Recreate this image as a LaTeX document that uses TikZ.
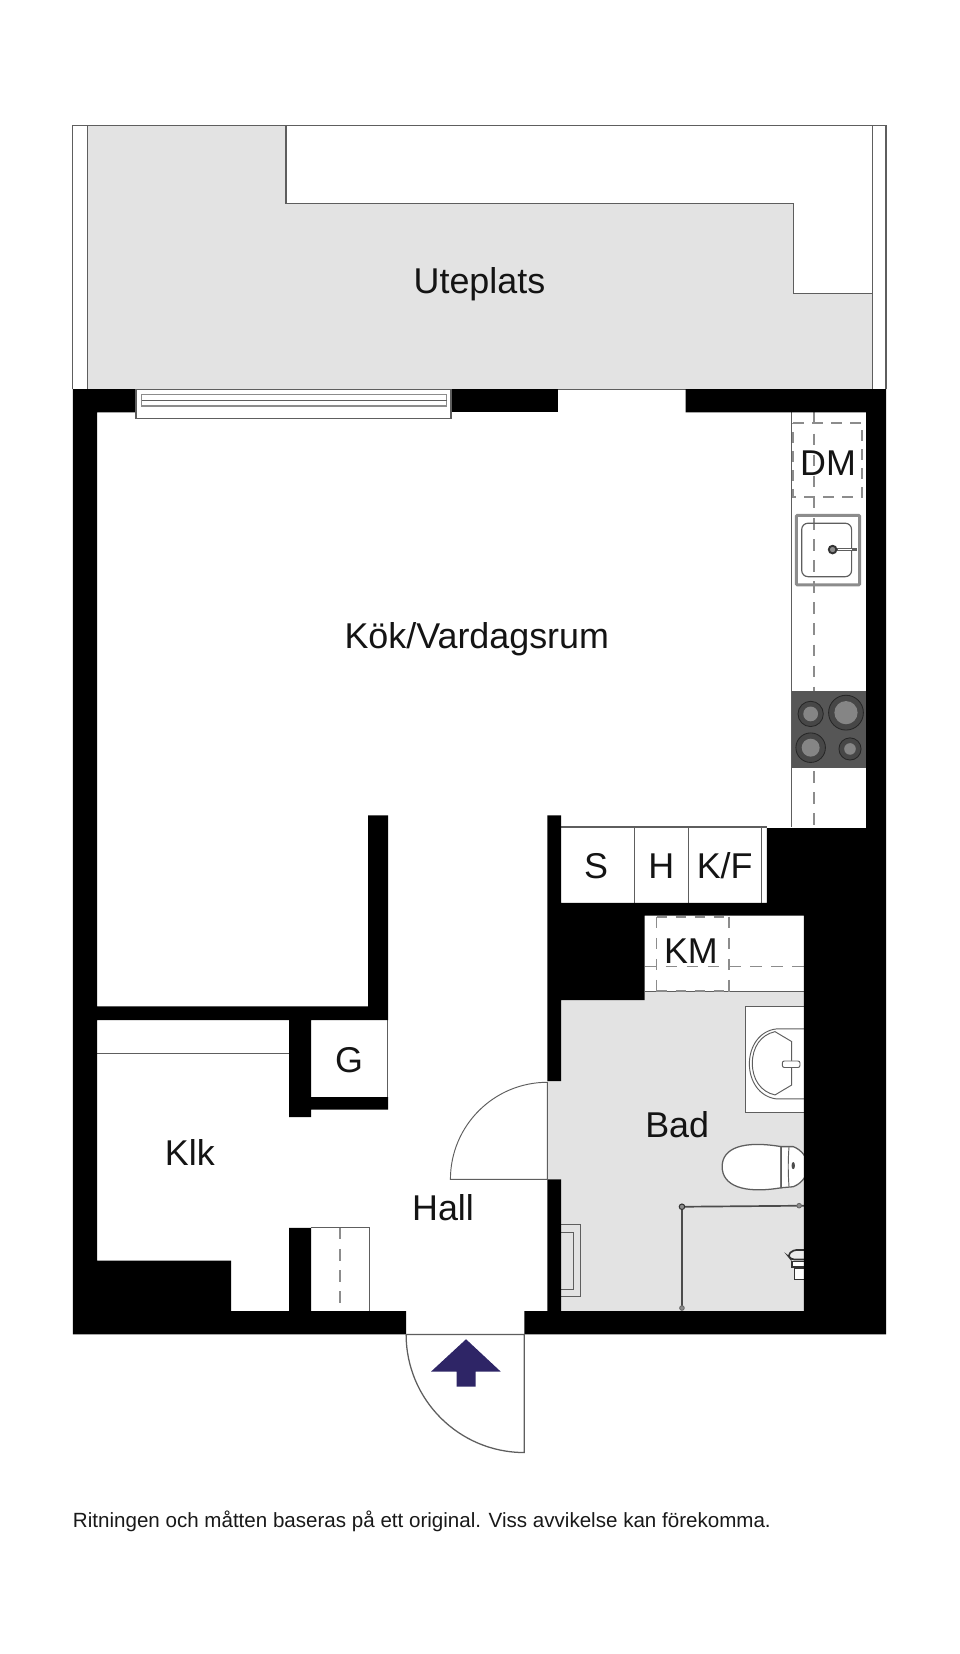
\documentclass[tikz,border=0pt]{standalone}
\usepackage{fontspec}
\setmainfont{Liberation Sans}
\definecolor{floorgray}{HTML}{E3E3E3}
\definecolor{linegray}{HTML}{5E5E5E}
\definecolor{dashgray}{HTML}{8C8C8C}
\definecolor{hob}{HTML}{565656}
\definecolor{entry}{HTML}{2E2566}
\tikzset{
  wall/.style={fill=black,draw=none},
  thinline/.style={draw=linegray,line width=1.2pt},
  hair/.style={draw=linegray,line width=0.9pt},
  dashline/.style={draw=dashgray,line width=1.4pt,dash pattern=on 11pt off 9pt},
  dashthick/.style={draw=dashgray,line width=2pt,dash pattern=on 10pt off 8pt},
  room/.style={inner sep=0pt,font=\fontsize{34}{40}\selectfont,text=black!92},
  burnerring/.style={fill=black!72,draw=black!85,line width=0.8pt},
  burnercore/.style={fill=black!48,draw=none}
}
\begin{document}
\begin{tikzpicture}[x=1pt,y=-1pt]
\useasboundingbox (0,0) rectangle (910,1568);
\fill[white] (0,0) rectangle (910,1568);
% terrace
\fill[floorgray] (83,119) -- (271,119) -- (271,193) -- (752,193) -- (752,278) -- (827,278) -- (827,369) -- (83,369) -- cycle;
\draw[thinline] (69,369) -- (69,119) -- (840,119) -- (840,369);
\draw[thinline] (83,119) -- (83,369);
\draw[thinline] (827,119) -- (827,369);
\draw[thinline] (271,119) -- (271,193) -- (752,193) -- (752,278) -- (827,278);
\draw[thinline] (69,369) -- (840,369);
% bathroom floor
\fill[floorgray] (519,1025) -- (532,1025) -- (532,948) -- (611,948) -- (611,940) -- (762,940) -- (762,1243) -- (532,1243) -- (532,1118) -- (519,1118) -- cycle;
% kitchen counter
\draw[thinline] (750.5,391) -- (750.5,784);
\draw[dashline] (771.6,391) -- (771.6,784);
\draw[dashthick] (752,400.7) -- (816.8,400.7) -- (816.8,471.5) -- (752,471.5) -- cycle;
\draw[draw=dashgray,line width=2.8pt,rounded corners=1pt] (755,488.5) rectangle (815,554.5);
\draw[draw=linegray,line width=1.1pt,rounded corners=6pt] (760,496) rectangle (807.3,546.7);
\draw[draw=linegray,line width=2.4pt] (789.3,521) -- (812,521);
\draw[draw=white,line width=0.7pt] (794,521) -- (808,521);
\draw[draw=black!80,line width=1.8pt,fill=dashgray] (789.3,521) circle (3.6);
\fill[hob] (750.5,655) rectangle (821,727.7);
\draw[burnerring] (768.5,676.8) circle (12); \fill[burnercore] (768.5,676.8) circle (7);
\draw[burnerring] (802,675.6) circle (16.5); \fill[burnercore] (802,675.6) circle (11);
\draw[burnerring] (768.5,708.8) circle (14); \fill[burnercore] (768.5,708.8) circle (8.5);
\draw[burnerring] (805.8,710) circle (10.5); \fill[burnercore] (805.8,710) circle (5.5);
% closets
\draw[thinline] (532,784) -- (727,784);
\draw[thinline] (601.6,784) -- (601.6,856);
\draw[thinline] (652.5,784) -- (652.5,856);
\draw[thinline] (722,784) -- (722,856);
% KM room
\draw[thinline] (611,940) -- (762,940);
\draw[dashline] (611,916.3) -- (762,916.3);
\draw[dashline] (622.5,869) -- (622.5,940);
\draw[dashline] (691,869) -- (691,940);
\draw[dashthick] (622.5,869.5) -- (691,869.5);
\draw[dashthick] (622.5,939.5) -- (691,939.5);
% washbasin
\draw[hair,fill=white] (766,954.6) -- (707,954.6) -- (707,1054.5) -- (766,1054.5);
\draw[hair] (766,975.4) -- (736.3,975.4) .. controls (720,977) and (710.4,992) .. (710.4,1008.5) .. controls (710.4,1025) and (720,1040) .. (736.3,1041.8) -- (766,1041.8);
\draw[hair] (734.7,978) -- (750.5,987.4) -- (750.5,1028.6) -- (734.7,1038) .. controls (721,1035) and (713.2,1023) .. (713.2,1008) .. controls (713.2,993) and (721,981) .. (734.7,978) -- cycle;
\draw[hair,fill=white,rounded corners=2pt] (741.6,1005.8) rectangle (758.4,1012);
% toilet
\draw[thinline,fill=white] (740.5,1087) .. controls (705,1081) and (684.6,1088) .. (684.6,1106) .. controls (684.6,1124) and (705,1132) .. (740.5,1126) -- cycle;
\draw[thinline,fill=white] (740.5,1087) -- (752,1087) .. controls (760,1090) and (766,1098) .. (766,1106) .. controls (766,1114) and (760,1122) .. (752,1125) -- (740.5,1126) -- cycle;
\draw[hair] (748,1087) .. controls (747,1100) and (747,1112) .. (748,1125);
\draw[fill=black!70,draw=none] (752,1105) ellipse (1.6 and 3.4);
% shower screen
\draw[draw=black!70,line width=1.6pt] (646.5,1240) -- (646.5,1144) -- (762,1143);
\draw[draw=black!80,fill=dashgray,line width=1pt] (646.5,1144) circle (2.6);
\draw[draw=black!60,fill=dashgray,line width=0.8pt] (646.5,1240) circle (2.2);
\draw[draw=black!60,fill=dashgray,line width=0.8pt] (757.6,1143) circle (2.2);
% shower head
\draw[draw=black!80,fill=floorgray!70,line width=1.6pt,rounded corners=3pt] (764,1185) -- (752,1185) -- (746.8,1190) -- (750,1194) -- (764,1194);
\draw[draw=black!80,fill=white,line width=1.4pt] (751,1196) rectangle (764,1201);
\draw[draw=black!80,fill=white,line width=1.8pt] (753.2,1202) rectangle (764,1213);
% radiator
\draw[hair] (532,1161) -- (550,1161) -- (550,1228.6) -- (532,1228.6);
\draw[hair] (532,1168) -- (544,1168) -- (544,1222.6) -- (532,1222.6);
% other interior lines
\draw[hair] (92,998.8) -- (274,998.8);
\draw[hair] (367.5,967) -- (367.5,1040);
\draw[hair] (350,1243) -- (350,1164) -- (295,1164);
\draw[dashline] (322.3,1164) -- (322.3,1243);
% walls
\fill[wall] (69,369) -- (129,369) -- (129,391) -- (92,391) -- (92,954) -- (349,954) -- (349,773) -- (368,773) -- (368,967) -- (295,967) -- (295,1040) -- (368,1040) -- (368,1052) -- (295,1052) -- (295,1059) -- (274,1059) -- (274,967) -- (92,967) -- (92,1195) -- (219,1195) -- (219,1243) -- (274,1243) -- (274,1164) -- (295,1164) -- (295,1243) -- (385,1243) -- (385,1265) -- (69,1265) -- cycle;
\fill[wall] (428,369) rectangle (529,391);
\fill[wall] (650,369) -- (840,369) -- (840,1265) -- (497,1265) -- (497,1243) -- (519,1243) -- (519,1118) -- (532,1118) -- (532,1243) -- (762,1243) -- (762,868) -- (611,868) -- (611,948) -- (532,948) -- (532,1025) -- (519,1025) -- (519,773) -- (532,773) -- (532,856) -- (727,856) -- (727,785) -- (821,785) -- (821,391) -- (650,391) -- cycle;
% window
\draw[thinline,fill=white] (129,369) -- (129,396.6) -- (427.5,396.6) -- (427.5,369);
\draw[draw=dashgray,line width=1pt] (134.3,374.4) rectangle (423.4,384.9);
\draw[thinline] (134.3,379.9) -- (423.4,379.9);
\draw[hair] (129,369.5) -- (427.5,369.5);
% doors
\draw[hair] (519,1025.5) -- (519,1118) -- (427,1118) arc[start angle=180,end angle=270,radius=92];
\draw[thinline] (385,1265) -- (497,1265) -- (497,1377) arc[start angle=90,end angle=180,radius=112];
\fill[entry] (441.8,1269.6) -- (474.7,1300.3) -- (451,1300.3) -- (451,1314.5) -- (432.9,1314.5) -- (432.9,1300.3) -- (408.6,1300.3) -- cycle;
% labels
\node[room] (uteplats) at (454.5,269) {Uteplats};
\node[room] (kok) at (452,606) {Kök/Vardagsrum};
\node[room] (dm) at (785,439) {DM};
\node[room] (s) at (565,821) {S};
\node[room] (h) at (627,821) {H};
\node[room] (kf) at (687,821) {K/F};
\node[room] (km) at (655,902) {KM};
\node[room] (g) at (331,1005) {G};
\node[room] (klk) at (180,1093) {Klk};
\node[room] (hall) at (420,1145) {Hall};
\node[room] (bad) at (642,1066) {Bad};
\node[inner sep=0pt,anchor=base west,font=\fontsize{19.5}{22}\selectfont,text=black!90] (note) at (69,1448) {Ritningen och måtten baseras på ett original. Viss avvikelse kan förekomma.};
\end{tikzpicture}
\end{document}
